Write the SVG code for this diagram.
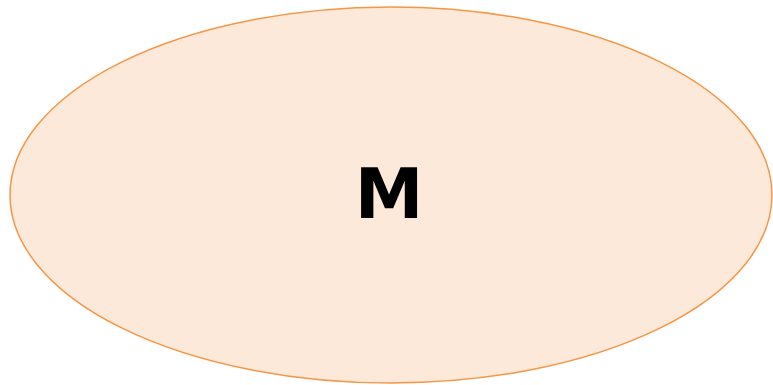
<svg xmlns="http://www.w3.org/2000/svg" width="773" height="385" viewBox="0 0 773 385">
<style>
.node{fill:#FDE9D9;stroke:#F79646;stroke-width:1.5}
.lbl{font-family:"DejaVu Sans","Liberation Sans",sans-serif;font-weight:bold;font-size:69px;fill:#000}
</style>
<rect width="773" height="385" fill="#fff"/>
<g id="connectors"></g>
<g id="node-M">
<ellipse class="node" cx="391" cy="195" rx="381" ry="188"/>
<text class="lbl" x="389" y="218" text-anchor="middle">M</text>
</g>
</svg>
